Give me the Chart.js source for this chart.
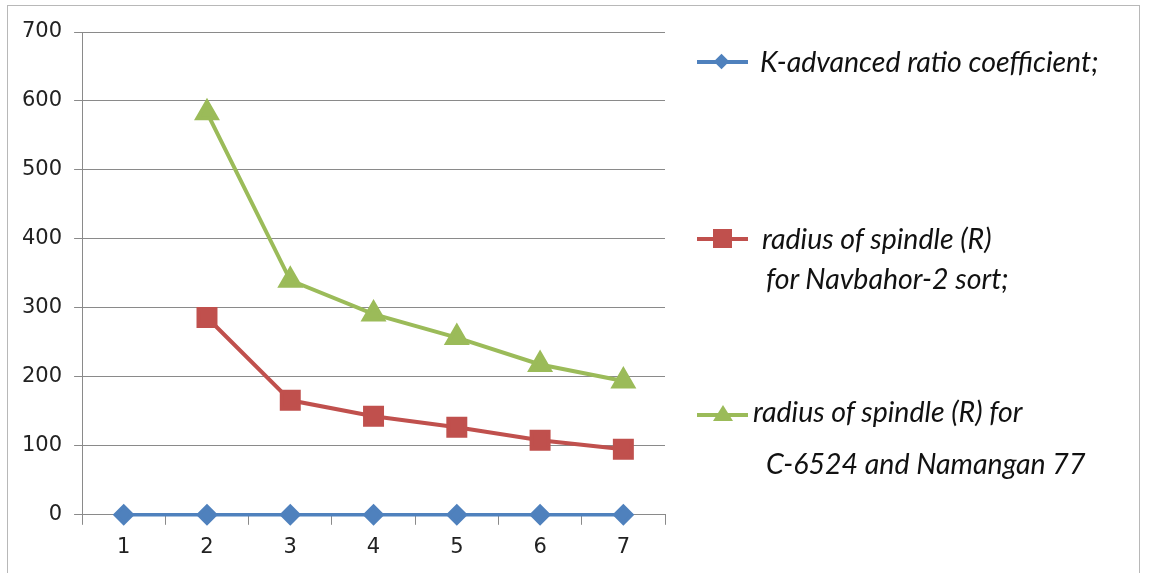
<!DOCTYPE html>
<html>
<head>
<meta charset="utf-8">
<script src="https://cdn.jsdelivr.net/npm/chart.js"></script>
<style>
  html, body { margin: 0; padding: 0; background: #fff; }
  #wrap { position: relative; width: 1149px; height: 573px; overflow: hidden; }
  #frame { position: absolute; left: 7px; top: 5px; width: 1133px; height: 600px; border: 1px solid #b8b8b8; box-sizing: border-box; }
  canvas { position: absolute; left: 0; top: 0; }
  .lg { position: absolute; font-family: Lato, "Open Sans", sans-serif; font-style: italic; font-size: 28.5px; line-height: 1; color: #111; white-space: nowrap; }
  .ln { position: absolute; height: 4px; width: 51px; left: 697px; }
  .mk { position: absolute; }
</style>
</head>
<body>
<div id="wrap">
  <div id="frame"></div>
  <canvas id="myChart" width="1149" height="573"></canvas>

  <!-- legend, drawn by hand because the layout is not a Chart.js one -->
  <div class="ln" style="top:60px;background:#4F81BD"></div>
  <div class="mk" style="left:716px;top:56px;width:11px;height:11px;background:#4F81BD;transform:rotate(45deg)"></div>
  <div class="lg" style="left:760px;top:47px">K-advanced ratio coefficient;</div>

  <div class="ln" style="top:237px;background:#C0504D"></div>
  <div class="mk" style="left:713px;top:229px;width:19px;height:19px;background:#C0504D"></div>
  <div class="lg" style="left:762px;top:224px">radius of spindle (R)</div>
  <div class="lg" style="left:766px;top:264px">for Navbahor-2 sort;</div>

  <div class="ln" style="top:413px;background:#9BBB59"></div>
  <div class="mk" style="left:713px;top:405px;width:20px;height:16px;background:#9BBB59;clip-path:polygon(50% 0,100% 100%,0 100%)"></div>
  <div class="lg" style="left:753px;top:397px">radius of spindle (R) for</div>
  <div class="lg" style="left:766px;top:449px">C-6524 and Namangan 77</div>
</div>

<script>
// categories and series
const xLabels = ['1', '2', '3', '4', '5', '6', '7'];
const kCoeff = [0, 0, 0, 0, 0, 0, 0];
const radiusNavbahor = [null, 286, 166, 143, 127, 108, 95];
const radiusNamangan = [null, 583, 340, 291, 257, 218, 194];

const gridColor = '#8a8a8a';
const tickFont = { family: 'DejaVu Sans', size: 21 };

const ctx = document.getElementById('myChart').getContext('2d');
new Chart(ctx, {
    type: 'line',
    data: {
        labels: xLabels,
        datasets: [
            {
                label: 'K-advanced ratio coefficient;',
                data: kCoeff,
                borderColor: '#4F81BD',
                backgroundColor: '#4F81BD',
                borderWidth: 3.5,
                pointStyle: 'rectRot',
                pointRadius: 8.5,
                tension: 0,
                clip: false
            },
            {
                label: 'radius of spindle (R) for Navbahor-2 sort;',
                data: radiusNavbahor,
                borderColor: '#C0504D',
                backgroundColor: '#C0504D',
                borderWidth: 4,
                pointStyle: 'rect',
                pointRadius: 12,
                tension: 0,
                clip: false
            },
            {
                label: 'radius of spindle (R) for C-6524 and Namangan 77',
                data: radiusNamangan,
                borderColor: '#9BBB59',
                backgroundColor: '#9BBB59',
                borderWidth: 4,
                pointStyle: 'triangle',
                pointRadius: 11,
                tension: 0,
                clip: false
            }
        ]
    },
    options: {
        responsive: false,
        animation: false,
        layout: { padding: { left: 10, top: 32, right: 484, bottom: 3 } },
        plugins: { legend: { display: false }, tooltip: { enabled: false } },
        scales: {
            x: {
                offset: true,
                grid: {
                    offset: true,
                    drawOnChartArea: false,
                    color: gridColor,
                    tickLength: 10
                },
                border: { color: gridColor, width: 1 },
                ticks: { color: '#222', font: tickFont, padding: 10 }
            },
            y: {
                min: 0,
                max: 700,
                ticks: { stepSize: 100, color: '#222', font: tickFont, padding: 12 },
                grid: { color: gridColor, tickLength: 8 },
                border: { color: gridColor, width: 1 }
            }
        }
    }
});
</script>
</body>
</html>
